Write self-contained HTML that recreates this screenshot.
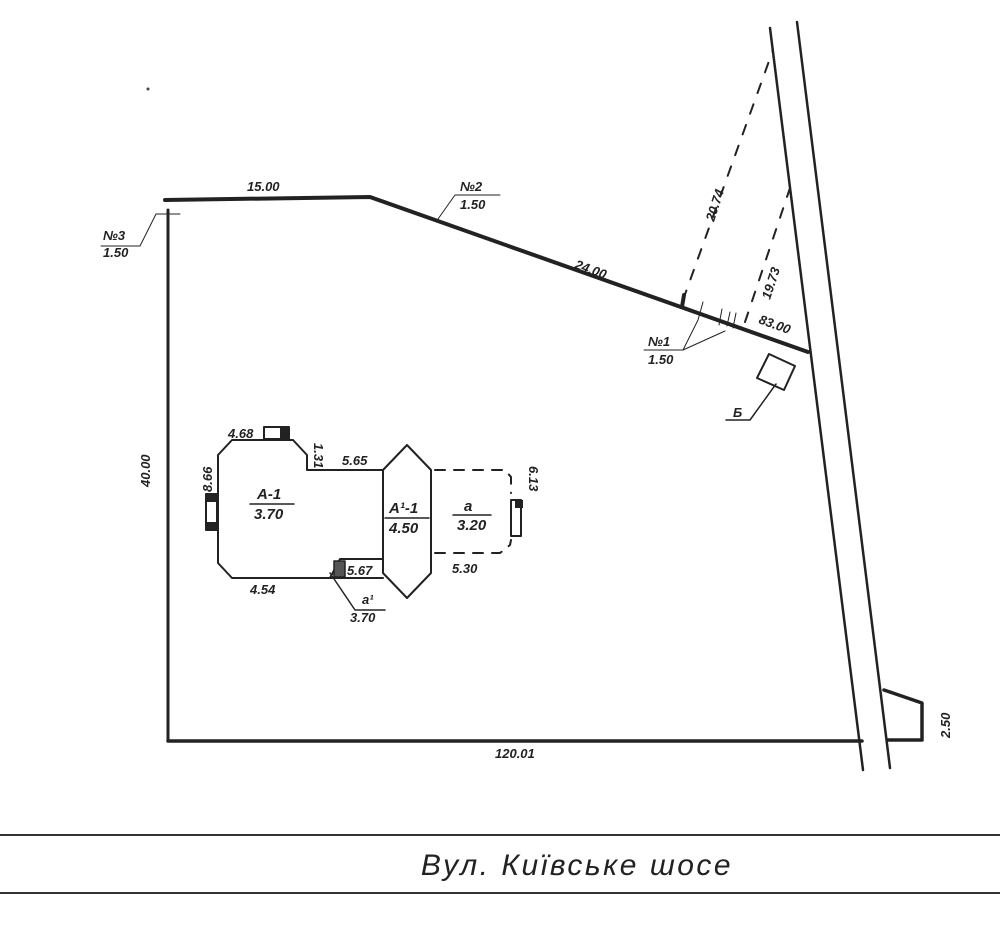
<!DOCTYPE html>
<html><head><meta charset="utf-8"><style>
html,body{margin:0;padding:0;background:#fff;}
svg{display:block}
text{font-family:"Liberation Sans","DejaVu Sans",sans-serif;font-style:italic;fill:#222;}
</style></head><body>
<svg width="1000" height="925" viewBox="0 0 1000 925" xmlns="http://www.w3.org/2000/svg">
<g stroke="#222" fill="none" stroke-linecap="round" stroke-linejoin="round">
<polyline points="168,741 168,210" stroke-width="3"/>
<polyline points="165,200 370,197 808,352" stroke-width="4"/>
<line x1="168" y1="741" x2="862" y2="741" stroke-width="3.5"/>
<line x1="770" y1="28" x2="863" y2="770" stroke-width="2.5"/>
<line x1="797" y1="22" x2="890" y2="768" stroke-width="2.5"/>
<polyline points="884,690 922,703 922,740 888,740" stroke-width="3.5"/>
<line x1="683" y1="300" x2="773" y2="50" stroke-width="2" stroke-dasharray="10,12"/>
<line x1="745" y1="322" x2="790" y2="188" stroke-width="2" stroke-dasharray="10,12"/>
<line x1="684" y1="295" x2="682" y2="307" stroke-width="4"/>
<line x1="703" y1="302" x2="698" y2="320"/>
<line x1="722" y1="309" x2="719" y2="325"/>
<line x1="730" y1="312" x2="727" y2="326"/>
<line x1="736" y1="313" x2="733" y2="328"/>
<polyline points="644,350 683,350 698,320"/>
<polyline points="683,350 725,331"/>
<polyline points="101,246 140,246 156,214 180,214"/>
<polyline points="438,219 455,195 500,195"/>
<polygon points="769,354 795,366 784,390 757,378" stroke-width="2"/>
<polyline points="726,420 750,420 776,384" stroke-width="1.5"/>
<polygon points="232,440 293,440 307,455 307,470 383,470 383,559 340,559 330,578 232,578 218,563 218,455" stroke-width="2"/>
<line x1="330" y1="578" x2="383" y2="578" stroke-width="2"/>
<polygon points="383,470 407,445 431,470 431,573 407,598 383,573" stroke-width="2"/>
<line x1="385" y1="518" x2="429" y2="518" stroke-width="1.5"/>
<polyline points="435,470 505,470 511,477 511,493" stroke-width="2" stroke-dasharray="10,9"/>
<polyline points="435,553 500,553 510,545 511,540" stroke-width="2" stroke-dasharray="10,9"/>
<line x1="250" y1="504" x2="294" y2="504" stroke-width="1.5"/>
<line x1="453" y1="515" x2="491" y2="515" stroke-width="1.5"/>
<polyline points="330,573 355,610 385,610" stroke-width="1.5"/>
<rect x="264" y="427" width="25" height="12" fill="#fff" stroke-width="2"/>
<rect x="206" y="494" width="11" height="36" fill="#fff" stroke-width="2"/>
<rect x="334" y="561" width="11" height="16" fill="#555" stroke-width="1.5"/>
<rect x="511" y="500" width="10" height="36" fill="#fff" stroke-width="2"/>
</g>
<rect x="280" y="427" width="9" height="12" fill="#222"/>
<rect x="206" y="494" width="11" height="8" fill="#222"/>
<rect x="206" y="522" width="11" height="8" fill="#222"/>
<rect x="515" y="500" width="8" height="8" fill="#222"/>
<line x1="0" y1="835" x2="1000" y2="835" stroke="#333" stroke-width="2"/>
<line x1="0" y1="893" x2="1000" y2="893" stroke="#333" stroke-width="2"/>
<text x="577" y="875" font-size="30" text-anchor="middle" letter-spacing="2.5">Вул. Київське шосе</text>
<g font-size="13" font-weight="bold">
<text x="247" y="191">15.00</text>
<text x="103" y="240">№3</text><text x="103" y="257">1.50</text>
<text x="460" y="191">№2</text><text x="460" y="209">1.50</text>
<text x="574" y="268" transform="rotate(20 574 268)">24.00</text>
<text x="648" y="346">№1</text><text x="648" y="364">1.50</text>
<text x="758" y="323" transform="rotate(20 758 323)">83.00</text>
<text x="714" y="222" transform="rotate(-72 714 222)">20.74</text>
<text x="770" y="300" transform="rotate(-72 770 300)">19.73</text>
<text x="733" y="417">Б</text>
<text x="150" y="487" transform="rotate(-90 150 487)">40.00</text>
<text x="495" y="758">120.01</text>
<text x="950" y="738" transform="rotate(-90 950 738)">2.50</text>
<text x="228" y="438">4.68</text>
<text x="212" y="492" transform="rotate(-90 212 492)">8.66</text>
<text x="314" y="443" transform="rotate(90 314 443)">1.31</text>
<text x="342" y="465">5.65</text>
<text x="257" y="499" font-size="15">A-1</text><text x="254" y="519" font-size="15">3.70</text>
<text x="389" y="513" font-size="15">A¹-1</text><text x="389" y="533" font-size="15">4.50</text>
<text x="464" y="511" font-size="15">a</text><text x="457" y="530" font-size="15">3.20</text>
<text x="529" y="466" transform="rotate(90 529 466)">6.13</text>
<text x="347" y="575">5.67</text>
<text x="452" y="573">5.30</text>
<text x="250" y="594">4.54</text>
<text x="362" y="604">a¹</text><text x="350" y="622">3.70</text>
</g>
<circle cx="148" cy="89" r="1.5" fill="#444"/>
</svg>
</body></html>
